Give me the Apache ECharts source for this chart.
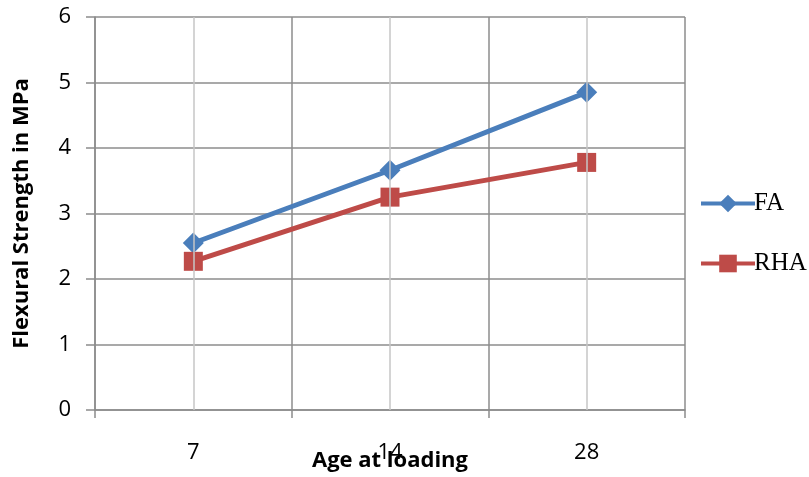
<!DOCTYPE html>
<html>
<head>
<meta charset="utf-8">
<script src="https://cdn.jsdelivr.net/npm/echarts@6/dist/echarts.min.js"></script>
<style>
  html, body { margin: 0; padding: 0; background: #fff; }
  #chart { width: 809px; height: 477px; }
</style>
</head>
<body>
<div id="chart"></div>
<script>
// Flexural strength (MPa) against age at loading (days)
const ages = ['7', '14', '28'];
const faValues = [2.55, 3.66, 4.85];
const rhaValues = [2.27, 3.25, 3.78];
const yTicks = [0, 6, 1]; // min, max, step

const chart = echarts.init(document.getElementById('chart'));

const darkGrid = '#8c8c8c';
const lightGrid = '#c6c6c6';

chart.setOption({
  animation: false,
  backgroundColor: '#ffffff',
  grid: { left: 95, right: 124, top: 17, bottom: 67, containLabel: false, outerBoundsMode: 'none' },
  xAxis: {
    type: 'category',
    data: ages,
    boundaryGap: true,
    name: 'Age at loading',
    nameLocation: 'middle',
    nameGap: 40,
    nameMoveOverlap: false,
    nameTextStyle: { fontFamily: 'Open Sans', fontWeight: 'bold', fontSize: 22, color: '#000' },
    axisLine: { show: true, lineStyle: { color: darkGrid, width: 1.5 } },
    axisTick: { show: true, length: 8, lineStyle: { color: darkGrid, width: 1.5 } },
    axisLabel: { margin: 32, fontFamily: 'Open Sans', fontSize: 22, color: '#000' },
    splitLine: { show: true, lineStyle: { color: darkGrid, width: 1.5 } }
  },
  yAxis: {
    type: 'value',
    min: yTicks[0],
    max: yTicks[1],
    interval: yTicks[2],
    name: 'Flexural Strength in MPa',
    nameLocation: 'middle',
    nameGap: 62,
    nameMoveOverlap: false,
    nameRotate: 90,
    nameTextStyle: { fontFamily: 'Open Sans', fontWeight: 'bold', fontSize: 22, color: '#000' },
    axisLine: { show: true, lineStyle: { color: darkGrid, width: 1.5 } },
    axisTick: { show: true, inside: false, length: 9, lineStyle: { color: darkGrid, width: 1.5 } },
    axisLabel: { margin: 24, fontFamily: 'Open Sans', fontSize: 22, color: '#000' },
    splitLine: { show: true, lineStyle: { color: darkGrid, width: 1.5 } }
  },
  legend: {
    orient: 'vertical',
    left: 694,
    top: 186,
    itemWidth: 54,
    itemHeight: 22,
    itemGap: 35,
    data: ['FA', 'RHA'],
    lineStyle: { width: 4 },
    textStyle: { fontFamily: 'Liberation Serif', fontSize: 25, color: '#000', padding: [0, 0, 0, -6] }
  },
  series: [
    {
      // light vertical guides through each category centre
      type: 'line',
      data: [],
      z: 1,
      silent: true,
      markLine: {
        silent: true,
        symbol: ['none', 'none'],
        label: { show: false },
        lineStyle: { color: lightGrid, width: 1.5, type: 'solid' },
        data: ages.map(a => ({ xAxis: a }))
      }
    },
    {
      name: 'FA',
      type: 'line',
      data: faValues,
      symbol: 'diamond',
      symbolSize: 21,
      lineStyle: { color: '#4a7ebb', width: 5 },
      itemStyle: { color: '#4a7ebb' },
      z: 3
    },
    {
      name: 'RHA',
      type: 'line',
      data: rhaValues,
      symbol: 'rect',
      symbolSize: 19,
      lineStyle: { color: '#be4b48', width: 5 },
      itemStyle: { color: '#be4b48' },
      z: 3
    }
  ]
});
</script>
</body>
</html>
